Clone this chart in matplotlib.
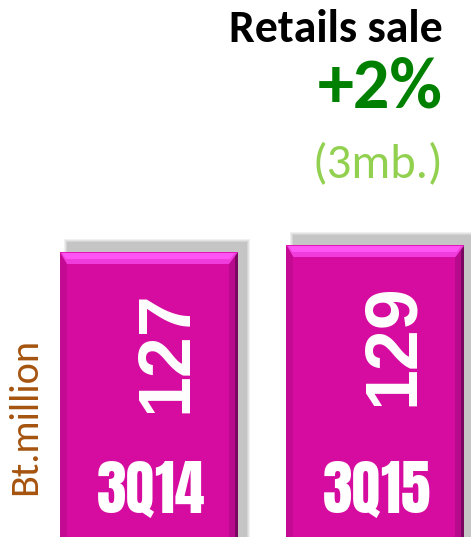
import matplotlib
matplotlib.use("Agg")
import matplotlib.pyplot as plt
from matplotlib import font_manager
from matplotlib.patches import Rectangle, Polygon

# chart data
quarters = ["3Q14", "3Q15"]
sales = [127, 129]
unit_label = "Bt.million"
title = "Retails sale"
growth = "+2%"
change = "(3mb.)"

BAR_COLOR = "#D60B9F"

installed = {f.name for f in font_manager.fontManager.ttflist}
if "Carlito" in installed:
    head_font = ["Carlito", "DejaVu Sans"]
    sizes = dict(title=33, growth=52, change=35, unit=29)
else:
    head_font = ["Lato", "DejaVu Sans"]
    sizes = dict(title=32.5, growth=46, change=33, unit=28)
label_family = ["Anton", "Oswald", "Liberation Sans Narrow", "DejaVu Sans"]

fig = plt.figure(figsize=(4.71, 5.37), dpi=100)
ax = fig.add_axes([0, 0, 1, 1])
ax.set_xlim(-0.658, 1.422)
ax.set_ylim(45.6, 199)
ax.axis("off")

# size of one pixel in data units
px = 1 / 226.5
py = 1 / 3.5

bars = ax.bar(range(len(quarters)), sales, width=0.786, color=BAR_COLOR,
              bottom=0, zorder=3)

for i, b in enumerate(bars):
    x0 = b.get_x()
    w = b.get_width()
    top = b.get_height()
    x1 = x0 + w
    # soft drop shadow up and to the right
    for k, a in enumerate([0.10, 0.10, 0.12, 0.14]):
        grow = 4 - k
        ax.add_patch(Rectangle((x0 + (8 - grow) * px, 0), w + grow * 2 * px,
                               top + (9 + grow) * py, color="#707070",
                               alpha=a, lw=0, zorder=1))
    # left and right edge bevels
    ax.add_patch(Rectangle((x0, 0), 7 * px, top, color="#B8088C", lw=0,
                           alpha=0.6, zorder=4))
    ax.add_patch(Rectangle((x1 - 9 * px, 0), 9 * px, top, color="#B00A88",
                           lw=0, alpha=0.8, zorder=4))
    ax.add_patch(Rectangle((x1 - 3 * px, 0), 3 * px, top, color="#7A0860",
                           lw=0, zorder=5))
    # top highlight bevel
    ax.add_patch(Polygon([(x0, top), (x1, top), (x1 - 9 * px, top - 12 * py),
                          (x0 + 7 * px, top - 12 * py)], closed=True,
                         color="#F03CDA", lw=0, zorder=5))
    ax.add_patch(Polygon([(x0 + 2 * px, top - 1 * py), (x1 - 3 * px, top - 1 * py),
                          (x1 - 8 * px, top - 7 * py), (x0 + 6 * px, top - 7 * py)],
                         closed=True, color="#FF55F5", lw=0, zorder=6))
    ax.add_patch(Rectangle((x0, top - 1 * py), w, 1 * py, color="#E018B8",
                           lw=0, zorder=6))

    cx = b.get_x() + w / 2
    # value, rotated
    ax.text(cx + 18 * px, top - 38 * py, f"{sales[i]}", rotation=90,
            ha="center", va="top", color="white", fontsize=53,
            fontweight="bold", family=["Liberation Sans", "DejaVu Sans"],
            zorder=7)
    # quarter label
    ax.text(cx + 2 * px, 45.6 + 24 * py, quarters[i], ha="center",
            va="baseline", color="white", fontsize=43, family=label_family,
            zorder=7)

# unit label at left
fig.text(25 / 471, 1 - 416 / 537, unit_label, rotation=90, ha="center",
         va="center", color="#A5540F", fontsize=sizes["unit"], family=head_font)

# header texts
fig.text(443 / 471, 1 - 42 / 537, title, ha="right", va="baseline",
         color="black", fontsize=sizes["title"], fontweight="bold",
         family=head_font)
fig.text(443 / 471, 1 - 108 / 537, growth, ha="right", va="baseline",
         color="#008000", fontsize=sizes["growth"], fontweight="bold",
         family=head_font)
fig.text(443 / 471, 1 - 178 / 537, change, ha="right", va="baseline",
         color="#92D050", fontsize=sizes["change"], family=head_font)

fig.savefig("out.png", dpi=100, facecolor="white")
